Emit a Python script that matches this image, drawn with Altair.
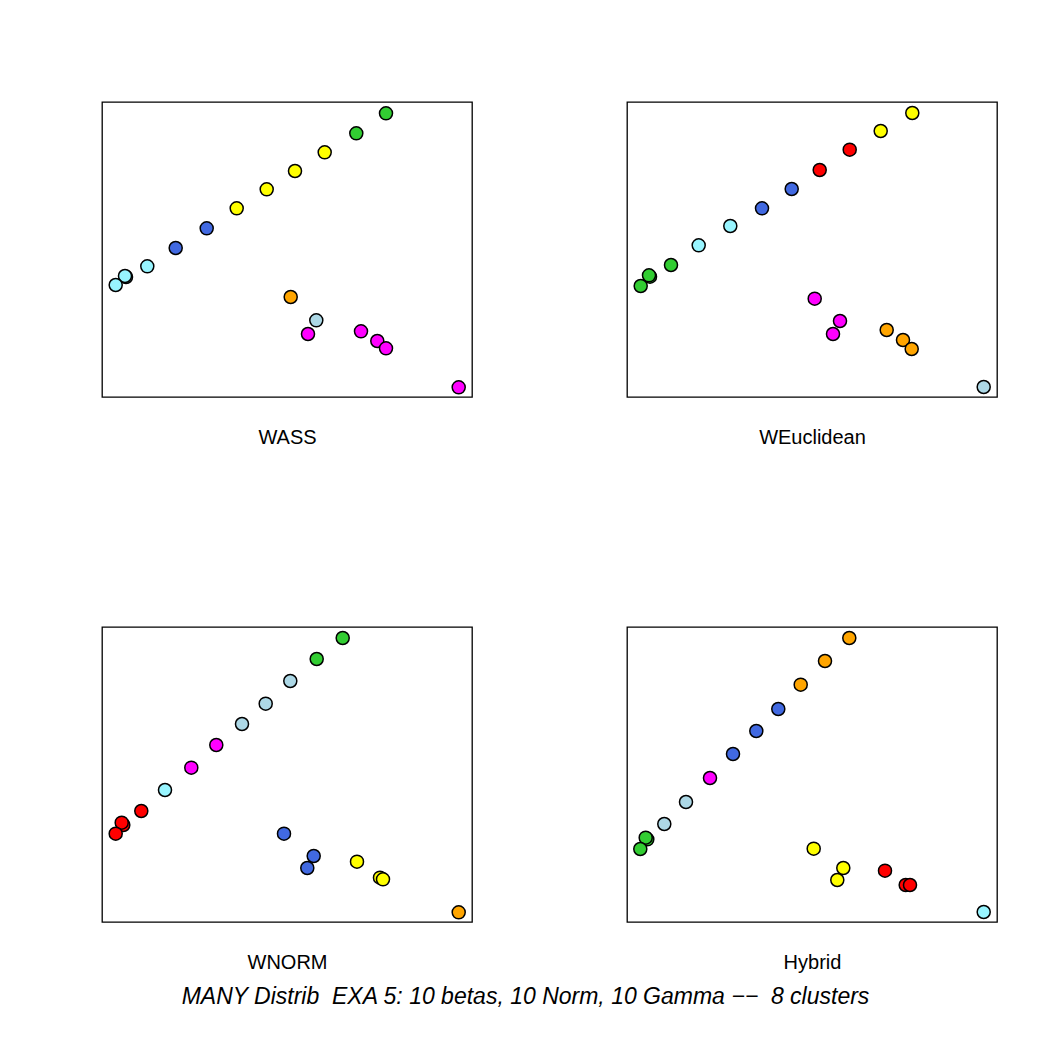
import altair as alt
import pandas as pd

# Panel names
panels = ["WASS", "WEuclidean", "WNORM", "Hybrid"]

# Colour palette (R colour names -> hex)
color_names = ["limegreen", "yellow", "royalblue", "cadetblue1", "orange",
               "lightblue", "magenta", "red"]
color_hex = ["#32CD32", "#FFFF00", "#4169E1", "#98F5FF", "#FFA500",
             "#ADD8E6", "#FF00FF", "#FF0000"]

# --- WASS ---
wass_x = [284, 254.3, 222.7, 193, 164.7, 134.7, 104.7, 73.7, 45.3, 24, 23, 13.7,
          188.7, 214.3, 206, 259, 275.3, 284, 356.7]
wass_y = [283.7, 263.7, 244.7, 226, 207.7, 188.7, 168.7, 149, 130.7, 120, 121, 112,
          100, 76.7, 63, 65.7, 56, 48.7, 9.7]
wass_c = ["limegreen", "limegreen", "yellow", "yellow", "yellow", "yellow",
          "royalblue", "royalblue", "cadetblue1", "cadetblue1", "cadetblue1", "cadetblue1",
          "orange", "lightblue", "magenta", "magenta", "magenta", "magenta", "magenta"]

# --- WEuclidean ---
weuc_x = [285.3, 253.7, 222.7, 192.7, 164.7, 135, 103.3, 71.7, 44, 23, 22, 13.7,
          187.7, 213, 206, 259.7, 276, 284.7, 356.7]
weuc_y = [284, 266, 247.3, 227, 208, 188.7, 171, 151.7, 132, 120.3, 121.7, 111,
          98.3, 76, 63, 67, 57, 48, 10]
weuc_c = ["yellow", "yellow", "red", "red", "royalblue", "royalblue",
          "cadetblue1", "cadetblue1", "limegreen", "limegreen", "limegreen", "limegreen",
          "magenta", "magenta", "magenta", "orange", "orange", "orange", "lightblue"]

# --- WNORM ---
wnorm_x = [240.7, 214.7, 188.3, 163.7, 140, 114.3, 89.3, 63, 39.3, 21.3, 19.7, 13.7,
           182, 211.7, 205.3, 255, 278, 281, 356.7]
wnorm_y = [284, 263, 241, 218.3, 198, 177, 154.3, 132, 111, 97, 99.3, 88.3,
           88.3, 66, 54, 60.3, 44.3, 42.7, 9.7]
wnorm_c = ["limegreen", "limegreen", "lightblue", "lightblue", "lightblue",
           "magenta", "magenta", "cadetblue1", "red", "red", "red", "red",
           "royalblue", "royalblue", "royalblue", "yellow", "yellow", "yellow", "orange"]

# --- Hybrid ---
hyb_x = [222.3, 198, 173.7, 151.3, 129.3, 106, 83, 59, 37.3, 20.3, 18.7, 13.3,
         186.7, 216.3, 210.3, 258, 278.7, 283, 356.7]
hyb_y = [284, 261, 237.3, 213, 191, 168, 144, 120, 98, 82.7, 84.3, 73,
         73.3, 54, 42, 51.3, 37, 37, 10]
hyb_c = ["orange", "orange", "orange", "royalblue", "royalblue", "royalblue",
         "magenta", "lightblue", "lightblue", "limegreen", "limegreen", "limegreen",
         "yellow", "yellow", "yellow", "red", "red", "red", "cadetblue1"]

caption = "MANY Distrib\u00a0 EXA 5: 10 betas, 10 Norm, 10 Gamma \u2212\u2212\u00a0 8 clusters"

FONT = "Liberation Sans"


def panel(name, xs, ys, cs):
    df = pd.DataFrame({"x": xs, "y": ys, "col": cs, "order": list(range(len(xs)))})
    return alt.Chart(df).mark_circle(
        size=170, stroke="black", strokeWidth=1.5, opacity=1, fillOpacity=1
    ).encode(
        x=alt.X("x:Q", scale=alt.Scale(domain=[0, 370], nice=False, zero=False),
                axis=alt.Axis(title=name, labels=False, ticks=False, domain=False,
                              grid=False, titleFont=FONT, titleFontSize=20,
                              titleFontWeight="normal", titleColor="black",
                              titlePadding=46, titleBaseline="alphabetic")),
        y=alt.Y("y:Q", scale=alt.Scale(domain=[0, 295], nice=False, zero=False), axis=None),
        color=alt.Color("col:N", scale=alt.Scale(domain=color_names, range=color_hex),
                        legend=None),
        order=alt.Order("order:Q"),
    ).properties(width=370, height=295)


charts = [panel(panels[0], wass_x, wass_y, wass_c),
          panel(panels[1], weuc_x, weuc_y, weuc_c),
          panel(panels[2], wnorm_x, wnorm_y, wnorm_c),
          panel(panels[3], hyb_x, hyb_y, hyb_c)]

chart = alt.concat(
    *charts, columns=2, spacing={"row": 230, "column": 155}, bounds="flush"
).properties(
    title=alt.TitleParams(text=caption, orient="bottom", anchor="middle",
                          font=FONT, fontSize=23, fontStyle="italic",
                          fontWeight="normal", color="black",
                          baseline="alphabetic", offset=31, dx=-24),
    padding={"left": 101, "top": 101, "right": 0, "bottom": 0},
    autosize=alt.AutoSizeParams(type="pad"),
    background="white",
).configure_view(
    stroke="black", strokeWidth=1.3
)

chart.save("out.html", embed_options={"renderer": "svg", "actions": False})
